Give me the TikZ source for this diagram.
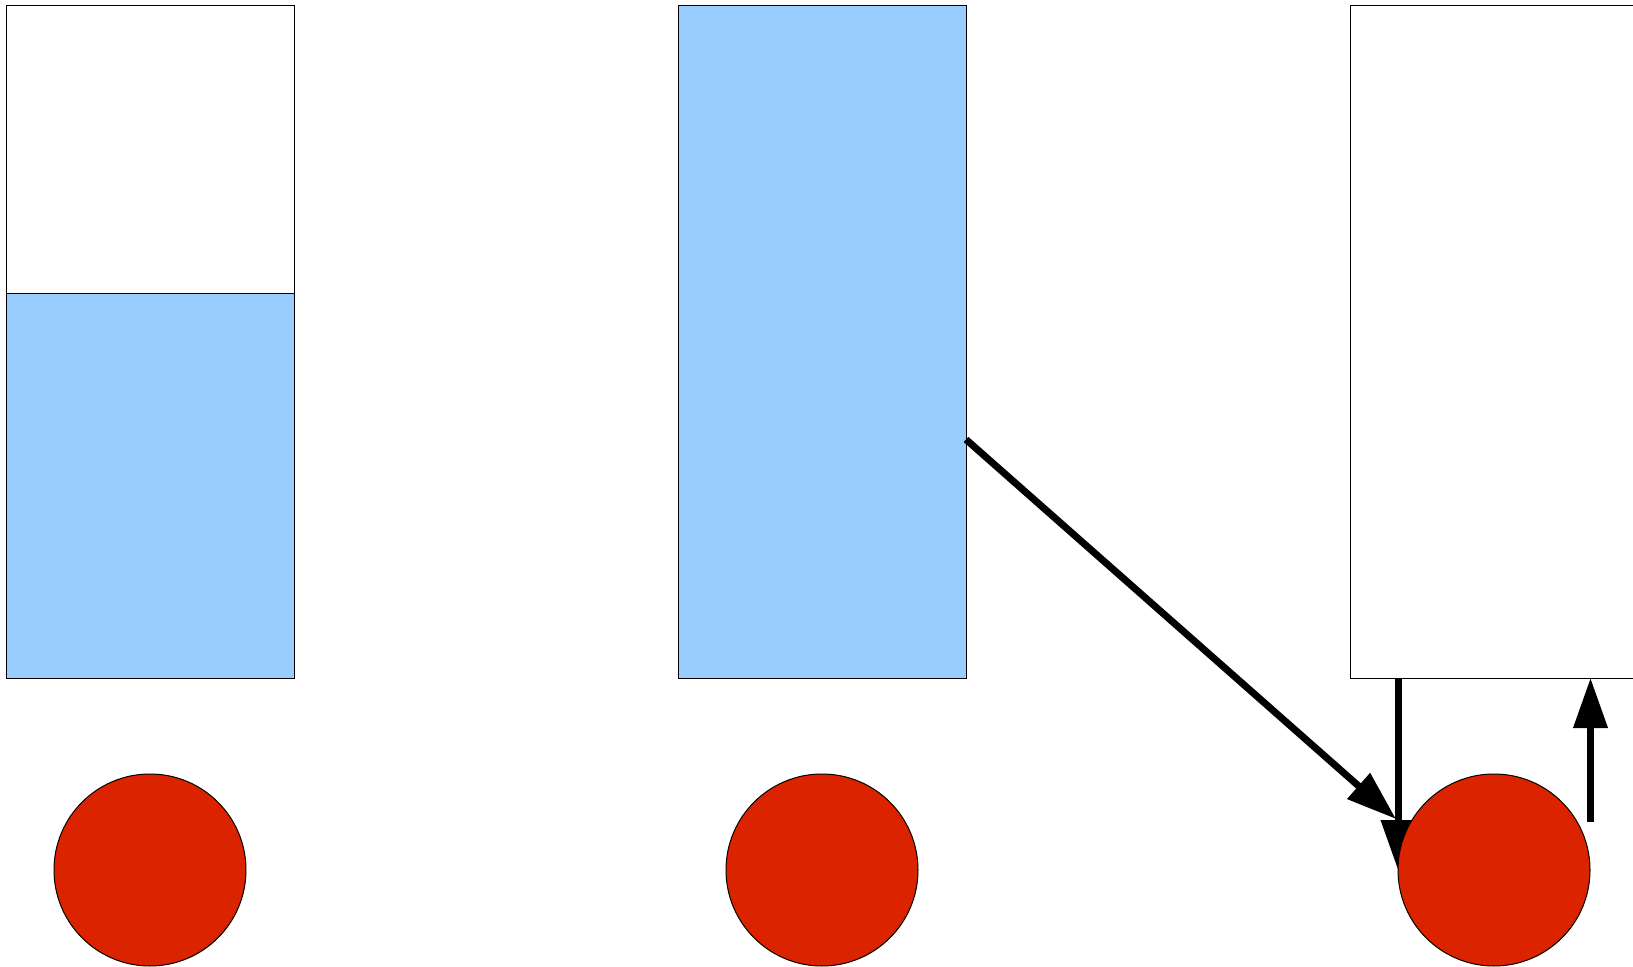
\documentclass[tikz,border=0pt]{standalone}
\usetikzlibrary{arrows.meta}
\definecolor{lightblue}{HTML}{99CCFF}
\definecolor{redfill}{HTML}{DC2300}
\begin{document}
\begin{tikzpicture}[x=0.5pt,y=-0.5pt,
  boxshape/.style={draw=black,line width=0.5pt,rectangle,inner sep=0pt,outer sep=0pt,minimum width=144pt},
  ball/.style={draw=black,line width=0.5pt,circle,fill=redfill,inner sep=0pt,outer sep=0pt,minimum size=96pt},
  conn/.style={line width=3.5pt,-{Triangle[length=25pt,width=16.5pt]}}]
\useasboundingbox (0,0) rectangle (1633,967);
% boxes
\node[boxshape,fill=white,minimum height=144pt] (b1top) at (150,150) {};
\node[boxshape,fill=lightblue,minimum height=192pt] (b1bot) at (150,486) {};
\node[boxshape,fill=lightblue,minimum height=336pt] (b2) at (822,342) {};
\node[boxshape,fill=white,minimum height=336pt] (b3) at (1494,342) {};
% named coordinates for connectors
\coordinate (diagend) at (1396,819);
\coordinate (upstart) at (1590.5,822);
\coordinate (c3w) at (1398,870);
\coordinate (c3e) at (1590.5,870);
% connectors
\draw[conn] ([yshift=-48.75pt]b2.east) -- (diagend);
\draw[conn] (c3w |- b3.south) -- (c3w);
\draw[conn] (upstart) -- (c3e |- b3.south);
% balls
\node[ball] (c1) at (150,870) {};
\node[ball] (c2) at (822,870) {};
\node[ball] (c3) at (1494,870) {};
\end{tikzpicture}
\end{document}
